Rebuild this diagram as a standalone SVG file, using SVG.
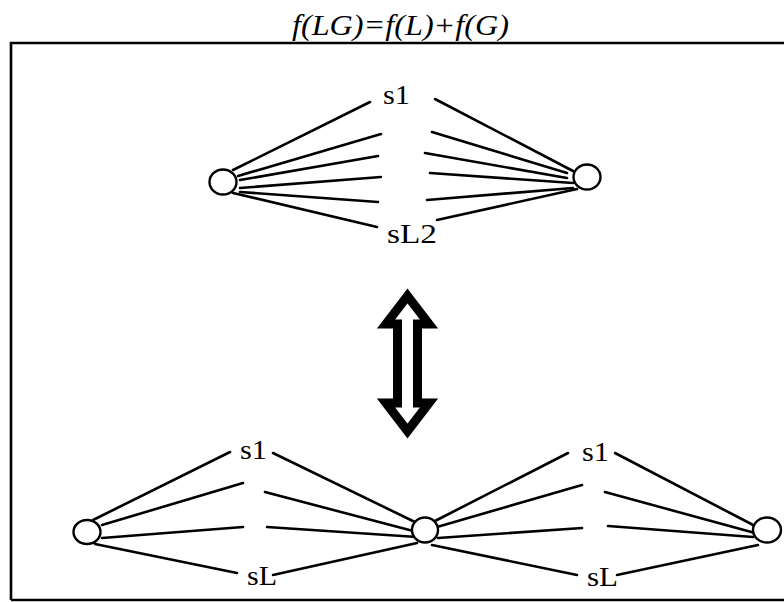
<svg xmlns="http://www.w3.org/2000/svg" width="784" height="602" viewBox="0 0 784 602">
<style>
.ln{stroke:#000;stroke-width:2.6;stroke-linecap:round;fill:none}
.nd{fill:#fff;stroke:#000;stroke-width:2.4}
.lbl{font-family:"Liberation Serif","Times New Roman",serif;font-size:28px;fill:#000}
.ttl{font-family:"Liberation Serif","Times New Roman",serif;font-style:italic;font-size:29px;fill:#000}
</style>
<rect width="784" height="602" fill="#fff"/>
<text class="ttl" x="292" y="35" textLength="217" lengthAdjust="spacingAndGlyphs">f(LG)=f(L)+f(G)</text>
<path d="M11,600 L11,43 L790,43 M11,600 L790,600" stroke="#000" stroke-width="2.6" fill="none"/>
<g id="connectors">
<line class="ln" x1="233" y1="170" x2="370" y2="102"/>
<line class="ln" x1="238" y1="176" x2="381" y2="134"/>
<line class="ln" x1="240" y1="180" x2="378" y2="156"/>
<line class="ln" x1="240" y1="188" x2="381" y2="177"/>
<line class="ln" x1="240" y1="192" x2="378" y2="202"/>
<line class="ln" x1="233" y1="193" x2="377" y2="227"/>
<line class="ln" x1="435" y1="99" x2="573" y2="171"/>
<line class="ln" x1="432" y1="132" x2="567" y2="173"/>
<line class="ln" x1="425" y1="153" x2="567" y2="178"/>
<line class="ln" x1="430" y1="173" x2="573" y2="183"/>
<line class="ln" x1="427" y1="200" x2="573" y2="188"/>
<line class="ln" x1="437" y1="220" x2="577" y2="189"/>
<line class="ln" x1="93" y1="520" x2="230" y2="452"/>
<line class="ln" x1="102" y1="525" x2="243" y2="483"/>
<line class="ln" x1="102" y1="538" x2="243" y2="527"/>
<line class="ln" x1="95" y1="544" x2="237" y2="573"/>
<line class="ln" x1="273" y1="453" x2="417" y2="523"/>
<line class="ln" x1="265" y1="492" x2="417" y2="532"/>
<line class="ln" x1="267" y1="527" x2="417" y2="537"/>
<line class="ln" x1="273" y1="575" x2="417" y2="543"/>
<line class="ln" x1="433" y1="522" x2="568" y2="453"/>
<line class="ln" x1="437" y1="527" x2="582" y2="485"/>
<line class="ln" x1="438" y1="538" x2="582" y2="528"/>
<line class="ln" x1="432" y1="545" x2="577" y2="575"/>
<line class="ln" x1="615" y1="453" x2="757" y2="527"/>
<line class="ln" x1="605" y1="492" x2="755" y2="533"/>
<line class="ln" x1="608" y1="526" x2="753" y2="537"/>
<line class="ln" x1="617" y1="575" x2="758" y2="545"/>
</g>
<g id="arrow">
<path d="M407.5,296 L429,324 L417.5,324 L417.5,403 L429,403 L407.5,431 L386,403 L397.5,403 L397.5,324 L386,324 Z" fill="#fff" stroke="#000" stroke-width="9" stroke-linejoin="miter" stroke-miterlimit="4"/>
</g>
<g id="top-left"><ellipse class="nd" cx="223" cy="182" rx="13.5" ry="12.5"/></g>
<g id="top-right"><ellipse class="nd" cx="587" cy="177" rx="13.5" ry="12.5"/></g>
<g id="bottom-left"><ellipse class="nd" cx="87" cy="532" rx="13.5" ry="12"/></g>
<g id="bottom-middle"><ellipse class="nd" cx="425" cy="530" rx="13" ry="12.5"/></g>
<g id="bottom-right"><ellipse class="nd" cx="767" cy="530" rx="14" ry="12.5"/></g>
<g id="labels">
<text class="lbl" x="383" y="104" textLength="27" lengthAdjust="spacingAndGlyphs">s1</text>
<text class="lbl" x="387" y="243" textLength="50" lengthAdjust="spacingAndGlyphs">sL2</text>
<text class="lbl" x="240" y="459" textLength="27" lengthAdjust="spacingAndGlyphs">s1</text>
<text class="lbl" x="247" y="585" textLength="30" lengthAdjust="spacingAndGlyphs">sL</text>
<text class="lbl" x="582" y="461" textLength="27" lengthAdjust="spacingAndGlyphs">s1</text>
<text class="lbl" x="587" y="586" textLength="31" lengthAdjust="spacingAndGlyphs">sL</text>
</g>
</svg>
